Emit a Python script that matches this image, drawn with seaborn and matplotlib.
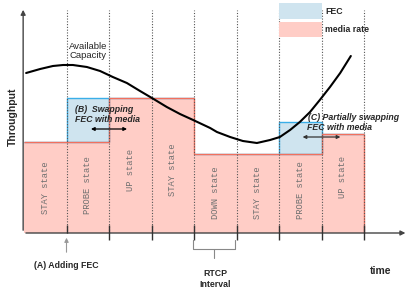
import numpy as np
import seaborn as sns
import matplotlib.pyplot as plt

# state intervals (one unit of time each)
states = ["STAY state", "PROBE state", "UP state", "STAY state",
          "DOWN state", "STAY state", "PROBE state", "UP state"]
media_rate = [9.1, 9.1, 13.5, 13.5, 7.9, 7.9, 7.9, 9.9]
fec_rate = [0.0, 4.4, 0.0, 0.0, 0.0, 0.0, 3.2, 0.0]
label_y = [4.5, 4.8, 6.3, 6.3, 4.0, 4.0, 4.3, 5.6]

# available capacity curve
cap_t = [0.05, 0.38, 0.68, 0.92, 1.15, 1.48, 1.79, 2.09, 2.42, 2.73, 3.01, 3.36,
         3.67, 3.98, 4.38, 4.54, 4.85, 5.15, 5.48, 5.79, 6.02, 6.26, 6.49, 6.73,
         6.96, 7.20, 7.44, 7.69]
cap_v = [16.0, 16.4, 16.7, 16.8, 16.8, 16.6, 16.2, 15.6, 15.0, 14.2, 13.5, 12.6,
         11.9, 11.3, 10.5, 10.1, 9.6, 9.2, 9.0, 9.3, 9.6, 10.3, 11.1, 12.1,
         13.3, 14.6, 16.0, 17.7]

MEDIA_FILL, MEDIA_EDGE = "#ffcdc6", "#f2705e"
FEC_FILL, FEC_EDGE = "#cfe4ef", "#3aaee8"

sns.set_style("white")
plt.rcParams["font.family"] = ["Liberation Sans", "DejaVu Sans"]

fig = plt.figure(figsize=(4.15, 2.93), dpi=100)
ax = fig.add_axes([0, 0, 1, 1])
ax.set_xlim(-24 / 42.5, 391 / 42.5)
ax.set_ylim(-6.0, 23.3)
ax.axis("off")

n = len(states)
edges = np.arange(n + 1)
t = np.arange(n)

# media rate and FEC
ax.stairs(media_rate, edges, baseline=0, fill=True, color=MEDIA_FILL, lw=0, zorder=1)
ax.bar(t, fec_rate, width=1, bottom=media_rate, align="edge",
       color=FEC_FILL, edgecolor=FEC_EDGE, lw=1, zorder=2)
ax.stairs(media_rate, edges, baseline=None, color=MEDIA_EDGE, lw=1, zorder=3)
ax.vlines(n, 0, media_rate[-1], color=MEDIA_EDGE, lw=1, zorder=3)

# interval separators
ax.vlines(edges[1:], 0, 22.3, color="#555555", lw=0.8, linestyles=(0, (1, 1.5)), zorder=4)

# available capacity
sns.lineplot(x=cap_t, y=cap_v, ax=ax, color="black", lw=1.5, zorder=5)
ax.text(1.06, 18.2, "Available\nCapacity", fontsize=6.8, ha="left", va="center",
        linespacing=1.0, zorder=6)

# state labels
for i, (s, yy) in enumerate(zip(states, label_y)):
    ax.text(i + 0.5, yy, s, rotation=90, ha="center", va="center", fontsize=6.3,
            family="Liberation Mono", color="#707070", zorder=6)

# axes with arrows
ax.annotate("", xy=(-0.02, 22.6), xytext=(-0.02, 0),
            arrowprops=dict(arrowstyle="-|>", color="#444444", lw=1, mutation_scale=7))
ax.annotate("", xy=(9.04, 0), xytext=(-0.02, 0),
            arrowprops=dict(arrowstyle="-|>", color="#444444", lw=1, mutation_scale=7))
ax.text(-0.26, 11.6, "Throughput", rotation=90, ha="center", va="center",
        fontsize=7.5, fontweight="bold")
ax.text(8.38, -3.8, "time", ha="center", va="center", fontsize=7.5, fontweight="bold")

# ticks below the axis
ax.vlines(edges[2:], -0.7, 0.8, color="#333333", lw=1, zorder=6)
ax.vlines(1, 0, 0.8, color="#333333", lw=1, zorder=6)
ax.annotate("", xy=(1, -0.2), xytext=(1, -2.2),
            arrowprops=dict(arrowstyle="-|>", color="#999999", lw=0.8, mutation_scale=6))
ax.text(1.0, -3.2, "(A) Adding FEC", ha="center", va="center", fontsize=6.3,
        fontweight="bold")

# RTCP interval bracket
ax.plot([3.98, 3.98, 4.96, 4.96], [-0.7, -1.6, -1.6, -0.7], color="#888888", lw=0.8)
ax.plot([4.47, 4.47], [-1.6, -2.5], color="#888888", lw=0.8)
ax.text(4.5, -4.0, "RTCP", ha="center", va="center", fontsize=6.3, fontweight="bold")
ax.text(4.5, -5.15, "Interval", ha="center", va="center", fontsize=6.3, fontweight="bold")

# annotations B and C
ax.text(1.2, 12.3, "(B)  Swapping", ha="left", va="center", fontsize=6.3,
        fontweight="bold", style="italic", zorder=6)
ax.text(1.2, 11.3, "FEC with media", ha="left", va="center", fontsize=6.3,
        fontweight="bold", style="italic", zorder=6)
ax.annotate("", xy=(1.51, 10.4), xytext=(2.49, 10.4),
            arrowprops=dict(arrowstyle="<|-|>", color="black", lw=0.9, mutation_scale=5))
ax.text(6.68, 11.5, "(C) Partially swapping", ha="left", va="center", fontsize=6.3,
        fontweight="bold", style="italic", zorder=6)
ax.text(6.66, 10.5, "FEC with media", ha="left", va="center", fontsize=6.3,
        fontweight="bold", style="italic", zorder=6)
ax.annotate("", xy=(6.49, 9.6), xytext=(7.51, 9.6),
            arrowprops=dict(arrowstyle="<|-|>", color="#333333", lw=0.9, mutation_scale=5))

# legend boxes
ax.bar([6.0], [1.6], bottom=21.4, width=1, align="edge", color=FEC_FILL, lw=0, zorder=5)
ax.bar([6.0], [1.5], bottom=19.6, width=1, align="edge", color=MEDIA_FILL, lw=0, zorder=5)
ax.text(7.08, 22.2, "FEC", ha="left", va="center", fontsize=6.3, fontweight="bold")
ax.text(7.08, 20.35, "media rate", ha="left", va="center", fontsize=6.3, fontweight="bold")

fig.savefig("out.png", dpi=100)
